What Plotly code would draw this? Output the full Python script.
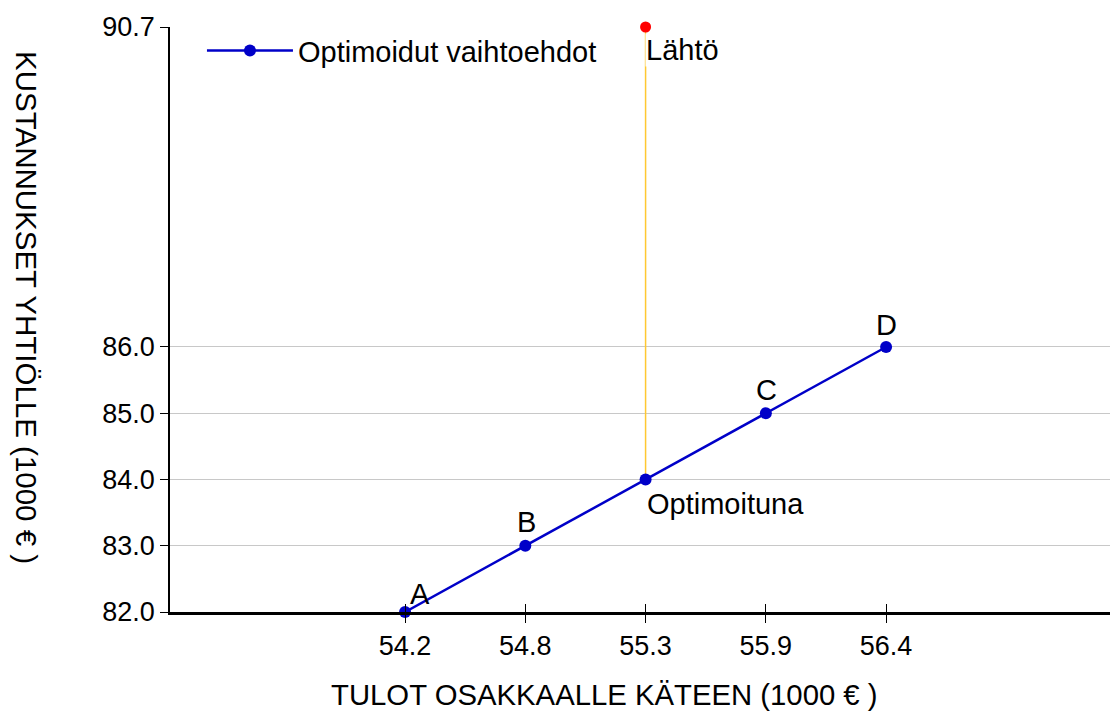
import plotly.graph_objects as go

# Data
alt_labels = ["A", "B", "Optimoituna", "C", "D"]
alt_income = [54.2, 54.75, 55.3, 55.85, 56.4]      # TULOT OSAKKAALLE KÄTEEN (1000 €)
alt_cost = [82.0, 83.0, 84.0, 85.0, 86.0]          # KUSTANNUKSET YHTIÖLLE (1000 €)
start_label = "Lähtö"
start_income = 55.3
start_cost = 90.83
x_tickvals = [54.2, 54.75, 55.3, 55.85, 56.4]
x_ticktext = ["54.2", "54.8", "55.3", "55.9", "56.4"]
y_tickvals = [82.0, 83.0, 84.0, 85.0, 86.0, 90.83]
y_ticktext = ["82.0", "83.0", "84.0", "85.0", "86.0", "90.7"]
series_name = "Optimoidut vaihtoehdot"
x_title = "TULOT OSAKKAALLE KÄTEEN (1000 € )"
y_title = "KUSTANNUKSET YHTIÖLLE (1000 € )"

FONT = "Liberation Sans, Arial, sans-serif"
xr = [53.125, 57.424]
yr = [82.0, 90.83]

fig = go.Figure()

# yellow connector from start to optimized
fig.add_trace(go.Scatter(
    x=[start_income, alt_income[2]], y=[start_cost, alt_cost[2]],
    mode="lines", line=dict(color="#FFC832", width=1.5),
    showlegend=False, hoverinfo="skip"))

fig.add_trace(go.Scatter(
    x=alt_income, y=alt_cost, name=series_name,
    mode="lines+markers",
    line=dict(color="#0000C8", width=2.5),
    marker=dict(color="#0000C8", size=12),
    cliponaxis=False))

fig.add_trace(go.Scatter(
    x=[start_income], y=[start_cost], mode="markers",
    marker=dict(color="#FF0000", size=11),
    showlegend=False, cliponaxis=False))

# point labels (offsets in px: dx of centre / left edge, dy of centre)
label_style = {
    "A": dict(xanchor="center", xshift=15, yshift=18),
    "B": dict(xanchor="center", xshift=1, yshift=24),
    "Optimoituna": dict(xanchor="left", xshift=0, yshift=-24),
    "C": dict(xanchor="center", xshift=1, yshift=23),
    "D": dict(xanchor="center", xshift=0, yshift=22),
}
for lab, xv, yv in zip(alt_labels, alt_income, alt_cost):
    st = label_style[lab]
    fig.add_annotation(x=xv, y=yv, text=lab, xref="x", yref="y",
                       showarrow=False, yanchor="middle", borderpad=0,
                       font=dict(family=FONT, size=29, color="black"), **st)

fig.add_annotation(x=start_income, y=start_cost, text=start_label,
                   xref="x", yref="y", xanchor="left", yanchor="middle",
                   showarrow=False, bgcolor="white", borderpad=0,
                   xshift=-1, yshift=-23,
                   font=dict(family=FONT, size=29, color="black"))

# axis titles
fig.add_annotation(x=0.5, y=0, xref="paper", yref="paper", text=x_title,
                   showarrow=False, xanchor="center", yanchor="middle",
                   xshift=(604 - 640), yshift=-82,
                   font=dict(family=FONT, size=29.3, color="black"))
fig.add_annotation(x=0, y=(612 - 307) / 585, xref="paper", yref="paper", text=y_title,
                   showarrow=False, textangle=90, xanchor="center", yanchor="middle",
                   xshift=-143,
                   font=dict(family=FONT, size=29.5, color="black"))

fig.update_layout(
    width=1110, height=711,
    margin=dict(l=170, r=0, t=27, b=99),
    paper_bgcolor="white", plot_bgcolor="white",
    font=dict(family=FONT, size=27, color="black"),
    legend=dict(x=0.034, y=1.003, xanchor="left", yanchor="top",
                bgcolor="rgba(0,0,0,0)", itemwidth=86,
                font=dict(family=FONT, size=29, color="black")),
    xaxis=dict(range=xr, tickvals=x_tickvals, ticktext=x_ticktext,
               showgrid=False, zeroline=False,
               showline=True, linecolor="black", linewidth=2.5,
               ticks="outside", ticklen=8, tickcolor="black", tickwidth=1,
               tickfont=dict(family=FONT, size=27, color="black")),
    yaxis=dict(range=yr, tickvals=y_tickvals, ticktext=y_ticktext,
               showgrid=True, gridcolor="#C8C8C8", gridwidth=1,
               zeroline=False,
               showline=True, linecolor="black", linewidth=1.5,
               ticks="outside", ticklen=8, tickcolor="black", tickwidth=1,
               tickfont=dict(family=FONT, size=27, color="black")),
    xaxis2=dict(range=xr, tickvals=x_tickvals, overlaying="x", side="bottom",
                showticklabels=False, showgrid=False, zeroline=False,
                ticks="inside", ticklen=8, tickcolor="black", tickwidth=1),
)
# dummy trace on xaxis2 to activate inside ticks
fig.add_trace(go.Scatter(x=[None], y=[None], xaxis="x2", showlegend=False))

fig.write_html("out.html", config={"displayModeBar": False},
               post_script="document.body.style.margin='0px';")
